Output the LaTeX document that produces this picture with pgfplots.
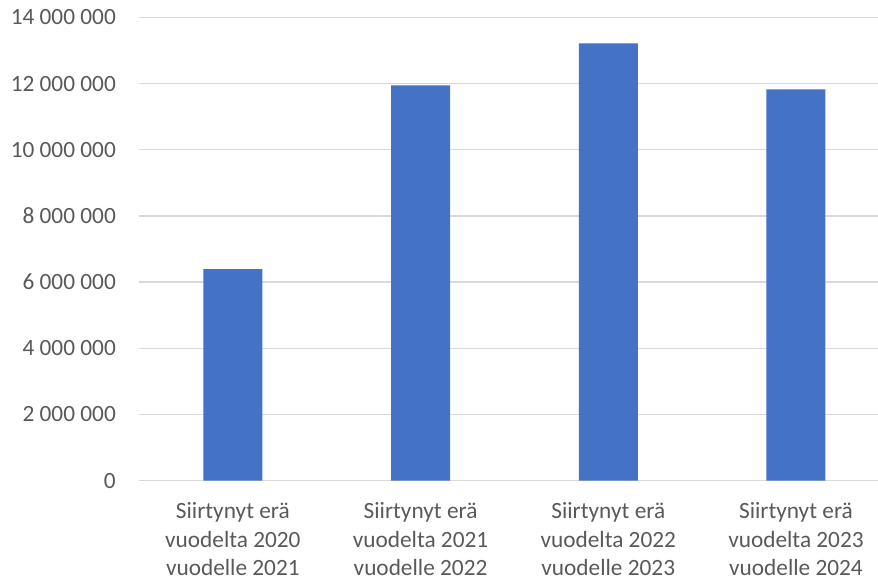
\documentclass[border=0pt]{standalone}
\usepackage{pgfplots}
\pgfplotsset{compat=1.18}
\usepackage{fontspec}
\setmainfont{Carlito}
\definecolor{barblue}{HTML}{4472C4}
\definecolor{txtgray}{HTML}{595959}
\definecolor{gridgray}{HTML}{D9D9D9}
\begin{document}
\begin{tikzpicture}
\begin{axis}[
  scale only axis,
  width=739pt, height=463.1pt,
  xmin=-0.5, xmax=3.437,
  ymin=0, ymax=14000000,
  axis line style={draw=none},
  tick style={draw=none},
  ymajorgrids,
  major grid style={gridgray, line width=1.3pt},
  scaled y ticks=false,
  ytick={0,2000000,4000000,6000000,8000000,10000000,12000000,14000000},
  yticklabels={0,2 000 000,4 000 000,6 000 000,8 000 000,10 000 000,12 000 000,14 000 000},
  xtick={0,1,2,3},
  xticklabels={{Siirtynyt erä\\vuodelta 2020\\vuodelle 2021},
               {Siirtynyt erä\\vuodelta 2021\\vuodelle 2022},
               {Siirtynyt erä\\vuodelta 2022\\vuodelle 2023},
               {Siirtynyt erä\\vuodelta 2023\\vuodelle 2024}},
  tick label style={font=\fontsize{23.3}{28.5}\selectfont, text=txtgray},
  yticklabel style={anchor=east, inner sep=0pt, xshift=-23pt},
  xticklabel style={anchor=north, align=center, inner sep=0pt, yshift=-22pt},
]
\addplot[ybar, bar width=59pt, fill=barblue, draw=none]
  coordinates {(0,6390000) (1,11950000) (2,13220000) (3,11830000)};
\end{axis}
\pgfresetboundingbox
\path[use as bounding box] (current axis.south west) ++(-139pt,-102.4pt) rectangle ++(878pt,583pt);
\end{tikzpicture}
\end{document}
